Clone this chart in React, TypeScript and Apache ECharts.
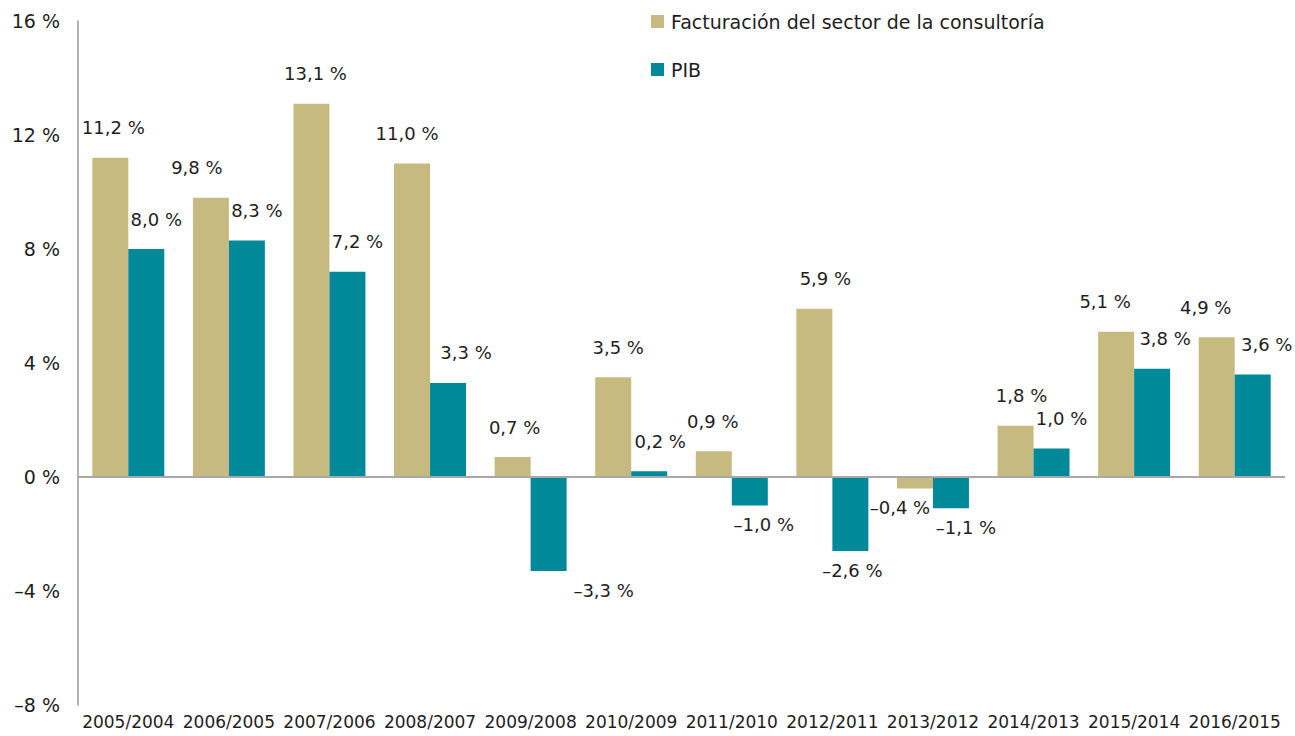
import React, { useEffect, useRef } from "react";
import * as echarts from "echarts";

const categories = [
  "2005/2004", "2006/2005", "2007/2006", "2008/2007", "2009/2008", "2010/2009",
  "2011/2010", "2012/2011", "2013/2012", "2014/2013", "2015/2014", "2016/2015",
];
const consultoria = [11.2, 9.8, 13.1, 11.0, 0.7, 3.5, 0.9, 5.9, -0.4, 1.8, 5.1, 4.9];
const pib = [8.0, 8.3, 7.2, 3.3, -3.3, 0.2, -1.0, -2.6, -1.1, 1.0, 3.8, 3.6];
const yTicks = [16, 12, 8, 4, 0, -4, -8];

const seriesNames = ["Facturación del sector de la consultoría", "PIB"];

// horizontal label nudges (px) relative to each bar, as in the source
const consultoriaLabelDx = [3, -14, 4, -5, 2, 5, -1, 11, -15, 6, -11, -11];
const pibLabelDx = [10, 10, 10, 18, 55, 11, 14, 2, 15, 10, 13, 14];

const GOLD = "#C6BA80";
const TEAL = "#008A99";
const FONT = "DejaVu Sans";
const TEXT = "#1e1e1e";

const fmt = (v: number, digits: number) => {
  const s = Math.abs(v).toFixed(digits).replace(".", ",");
  return (v < 0 ? "–" : "") + s + " %";
};

export default function App() {
  const ref = useRef<HTMLDivElement>(null);
  useEffect(() => {
    if (!ref.current) return;
    const chart = echarts.init(ref.current, null, { renderer: "svg" });
    const mkData = (vals: number[], dx: number[]) =>
      vals.map((v, i) => ({
        value: v,
        label: {
          position: v >= 0 ? "top" : "bottom",
          distance: v >= 0 ? 21 : 10,
          offset: [dx[i], 0],
        },
      }));
    const labelStyle = {
      show: true,
      color: TEXT,
      fontFamily: FONT,
      fontSize: 18,
      formatter: (p: any) => fmt(p.value, 1),
    };
    chart.setOption({
      animation: false,
      backgroundColor: "#ffffff",
      textStyle: { fontFamily: FONT },
      grid: { left: 78, right: 10, top: 21, bottom: 31, containLabel: false },
      legend: {
        orient: "vertical",
        left: 646,
        top: 7,
        itemWidth: 13,
        itemHeight: 13,
        itemGap: 29,
        icon: "rect",
        data: seriesNames,
        textStyle: {
          color: TEXT,
          fontFamily: FONT,
          fontSize: 19,
          padding: [0, 0, 0, 2],
        },
      },
      xAxis: {
        type: "category",
        data: categories,
        axisLine: { show: false },
        axisTick: { show: false },
        axisLabel: {
          color: TEXT,
          fontFamily: FONT,
          fontSize: 17,
          margin: 8,
          interval: 0,
        },
      },
      yAxis: {
        type: "value",
        min: yTicks[yTicks.length - 1],
        max: yTicks[0],
        interval: 4,
        splitLine: { show: false },
        axisTick: { show: false },
        axisLine: { show: true, lineStyle: { color: "#999999", width: 1.5 } },
        axisLabel: {
          color: TEXT,
          fontFamily: FONT,
          fontSize: 19,
          margin: 18,
          formatter: (v: number) => fmt(v, 0),
        },
      },
      series: [
        {
          name: seriesNames[0],
          type: "bar",
          data: mkData(consultoria, consultoriaLabelDx),
          barWidth: 36,
          barGap: "0%",
          itemStyle: { color: GOLD },
          label: labelStyle,
          markLine: {
            silent: true,
            symbol: "none",
            label: { show: false },
            lineStyle: { color: "#a8a8a8", width: 2, type: "solid" },
            data: [{ yAxis: 0 }],
            z: 5,
          },
        },
        {
          name: seriesNames[1],
          type: "bar",
          data: mkData(pib, pibLabelDx),
          barWidth: 36,
          barGap: "0%",
          itemStyle: { color: TEAL },
          label: labelStyle,
        },
      ],
    });
    return () => chart.dispose();
  }, []);
  return (
    <div
      ref={ref}
      style={{ position: "fixed", left: 0, top: 0, width: 1295, height: 736 }}
    />
  );
}
